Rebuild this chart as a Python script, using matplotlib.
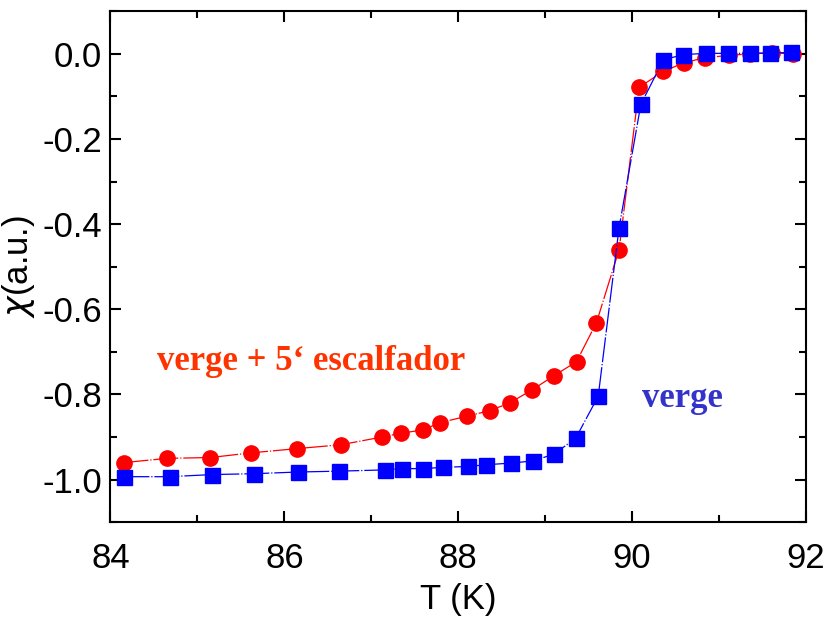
import numpy as np
import matplotlib.pyplot as plt
from matplotlib.ticker import MultipleLocator

# verge + 5' escalfador (red circles)
t_red = [84.15, 84.65, 85.15, 85.62, 86.15, 86.65, 87.12, 87.34, 87.60, 87.79,
         88.10, 88.36, 88.59, 88.85, 89.10, 89.36, 89.59, 89.85, 90.08, 90.36,
         90.60, 90.84, 91.11, 91.35, 91.61, 91.85]
chi_red = [-0.960, -0.950, -0.948, -0.937, -0.927, -0.918, -0.900, -0.891, -0.883, -0.866,
           -0.851, -0.838, -0.820, -0.789, -0.756, -0.723, -0.631, -0.460, -0.079, -0.041,
           -0.021, -0.009, -0.004, 0.000, 0.002, 0.000]

# verge (blue squares)
t_blue = [84.16, 84.68, 85.17, 85.65, 86.16, 86.63, 87.16, 87.35, 87.60, 87.83,
          88.11, 88.32, 88.61, 88.86, 89.10, 89.35, 89.61, 89.85, 90.10, 90.36,
          90.59, 90.85, 91.10, 91.35, 91.58, 91.83]
chi_blue = [-0.993, -0.993, -0.988, -0.986, -0.982, -0.980, -0.977, -0.974, -0.974, -0.971,
            -0.969, -0.965, -0.961, -0.956, -0.940, -0.903, -0.804, -0.408, -0.119, -0.014,
            -0.002, 0.001, 0.001, 0.001, 0.002, 0.003]

plt.rcParams['font.family'] = ['Liberation Sans', 'DejaVu Sans']

fig = plt.figure(figsize=(8.37, 6.21), dpi=100)
ax = fig.add_axes([0.132, 0.159, 0.831, 0.823])

ax.plot(t_red, chi_red, color='#ff0000', lw=0.9, ls=(0, (20, 1.5, 1, 1.5)),
        marker='o', ms=11, mec='#ff0000', mfc='#ff0000')
ax.plot(t_blue, chi_blue, color='#0000ff', lw=0.9, ls=(0, (20, 1.5, 1, 1.5)),
        marker='s', ms=10.8, mec='#0000ff', mfc='#0000ff')

ax.text(84.54, -0.743, 'verge + 5\u2018 escalfador', color='#ff3300', fontsize=25,
        fontweight='bold', family='Liberation Serif')
ax.text(90.11, -0.829, 'verge', color='#3333cc', fontsize=25,
        fontweight='bold', family='Liberation Serif')

ax.set_xlim(84, 92)
ax.set_ylim(-1.1, 0.1)
ax.xaxis.set_major_locator(MultipleLocator(2))
ax.xaxis.set_minor_locator(MultipleLocator(1))
ax.yaxis.set_major_locator(MultipleLocator(0.2))
ax.yaxis.set_minor_locator(MultipleLocator(0.1))
ax.tick_params(which='both', direction='in', top=True, right=True, width=1.5,
               labelsize=25)
ax.tick_params(axis='x', pad=14)
ax.tick_params(axis='y', pad=6)
ax.tick_params(which='major', length=8)
ax.tick_params(which='minor', length=5)
ax.set_yticklabels([f'{v:.1f}' for v in ax.get_yticks()])
for s in ax.spines.values():
    s.set_linewidth(1.5)

ax.set_xlabel('T (K)', fontsize=25, labelpad=6)
ax.set_ylabel(r'$\chi$(a.u.)', fontsize=25, labelpad=4)

fig.savefig('out.png', dpi=100)
